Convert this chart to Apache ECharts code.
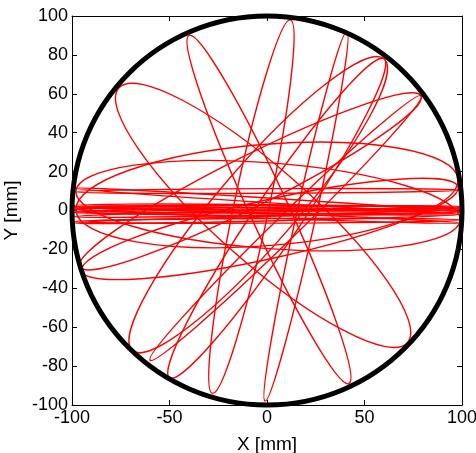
<!DOCTYPE html>
<html>
<head>
<meta charset="utf-8">
<script src="https://cdn.jsdelivr.net/npm/echarts@6/dist/echarts.min.js"></script>
<style>
  html, body { margin: 0; padding: 0; background: #fff; }
  #chart { width: 476px; height: 453px; }
</style>
</head>
<body>
<div id="chart"></div>
<script>
// Orbit loops: each loop is an elongated ellipse running from tip A to tip B (mm),
// with its half-width (semi-minor axis, mm).
const tipAx = [-76, -40, 12, 41, 60, 60, 79, -95, -98, -98, 79,
               -99, -99, -99, -99, -99, -99, -99, -99, -99, -99, -99, -99];
const tipAy = [63, 90, 98, 92, 78, 78, 59, -31, 0, 10, 59,
               11.5, 9.6, 2.5, 1.5, 0.5, 2, -1, -3.2, -5.7, -6.4, 1, 0];
const tipBx = [72, 42, -28, -1, -50, -69, -96, 98, 98, 99, -60,
               99, 99, 99, 99, 99, 99, 99, 99, 99, 99, 99, 99];
const tipBy = [-68, -89, -94, -98, -86, -72, -29, 12, 16, -5, -77,
               -1, 10.5, 0.5, 1.5, -0.5, -2, 2, 1, -4.9, -2, -6.4, 0];
const halfWidth = [24, 10, 9, 5, 12, 20, 13, 15, 26, 22, 6,
                   1.2, 1.2, 1.5, 1.2, 1.4, 1.2, 1.2, 1.2, 1.2, 1.2, 1.2, 2.5];

// Boundary of the plate: centre (mm) and radius (mm)
const rimCentre = [0, 0];
const rimRadius = 100;

const xTicks = [-100, -50, 0, 50, 100];
const yTicks = [-100, -80, -60, -40, -20, 0, 20, 40, 60, 80, 100];

const loops = tipAx.map((_, i) => [tipAx[i], tipAy[i], tipBx[i], tipBy[i], halfWidth[i]]);

const FONT = '"Liberation Sans", Arial, Helvetica, sans-serif';

function loopItem(params, api) {
  const p1 = api.coord([api.value(0), api.value(1)]);
  const p2 = api.coord([api.value(2), api.value(3)]);
  const b = api.value(4);
  const sz = api.size([b, b]);
  const dx = p2[0] - p1[0], dy = p2[1] - p1[1];
  return {
    type: 'ellipse',
    x: (p1[0] + p2[0]) / 2,
    y: (p1[1] + p2[1]) / 2,
    rotation: -Math.atan2(dy, dx),
    shape: { cx: 0, cy: 0, rx: Math.hypot(dx, dy) / 2, ry: (sz[0] + sz[1]) / 2 },
    style: { fill: null, stroke: '#ff0000', lineWidth: 1.4, opacity: 1 },
    silent: true
  };
}

function rimItem(params, api) {
  const c = api.coord([api.value(0), api.value(1)]);
  const r = api.value(2);
  const sz = api.size([r, r]);
  return {
    type: 'ellipse',
    shape: { cx: c[0], cy: c[1], rx: sz[0], ry: sz[1] },
    style: { fill: null, stroke: '#000000', lineWidth: 5 },
    silent: true
  };
}

const axisCommon = {
  type: 'value',
  min: -100,
  max: 100,
  axisLine: { show: true, onZero: false, lineStyle: { color: '#000', width: 1 } },
  axisTick: { show: true, inside: true, length: 5, lineStyle: { color: '#000', width: 1 } },
  splitLine: { show: false }
};

const chart = echarts.init(document.getElementById('chart'), null, { renderer: 'canvas' });
chart.setOption({
  animation: false,
  backgroundColor: '#fff',
  grid: { left: 72, right: 14, top: 16, bottom: 48, containLabel: false, outerBoundsMode: 'none' },
  xAxis: [
    Object.assign({}, axisCommon, {
      position: 'bottom',
      interval: 50,
      name: 'X [mm]',
      nameLocation: 'middle',
      nameGap: 30,
      nameTextStyle: { color: '#000', fontSize: 19, fontFamily: FONT },
      axisLabel: {
        color: '#000', fontSize: 18, fontFamily: FONT, margin: 4,
        customValues: xTicks
      },
      axisTick: Object.assign({}, axisCommon.axisTick, { customValues: xTicks })
    }),
    Object.assign({}, axisCommon, {
      position: 'top',
      interval: 50,
      axisLabel: { show: false },
      axisTick: Object.assign({}, axisCommon.axisTick, { customValues: xTicks })
    })
  ],
  yAxis: [
    Object.assign({}, axisCommon, {
      position: 'left',
      interval: 20,
      name: 'Y [mm]',
      nameLocation: 'middle',
      nameGap: 38,
      nameTextStyle: { color: '#000', fontSize: 19, fontFamily: FONT },
      axisLabel: {
        color: '#000', fontSize: 18, fontFamily: FONT, margin: 4,
        customValues: yTicks
      },
      axisTick: Object.assign({}, axisCommon.axisTick, { customValues: yTicks })
    }),
    Object.assign({}, axisCommon, {
      position: 'right',
      interval: 20,
      axisLabel: { show: false },
      axisTick: Object.assign({}, axisCommon.axisTick, { customValues: yTicks })
    })
  ],
  series: [
    {
      type: 'custom',
      name: 'orbit',
      xAxisIndex: 0,
      yAxisIndex: 0,
      renderItem: loopItem,
      data: loops,
      clip: true,
      z: 2
    },
    {
      type: 'custom',
      name: 'rim',
      xAxisIndex: 0,
      yAxisIndex: 0,
      renderItem: rimItem,
      data: [[rimCentre[0], rimCentre[1], rimRadius]],
      z: 3
    }
  ]
});
</script>
</body>
</html>
